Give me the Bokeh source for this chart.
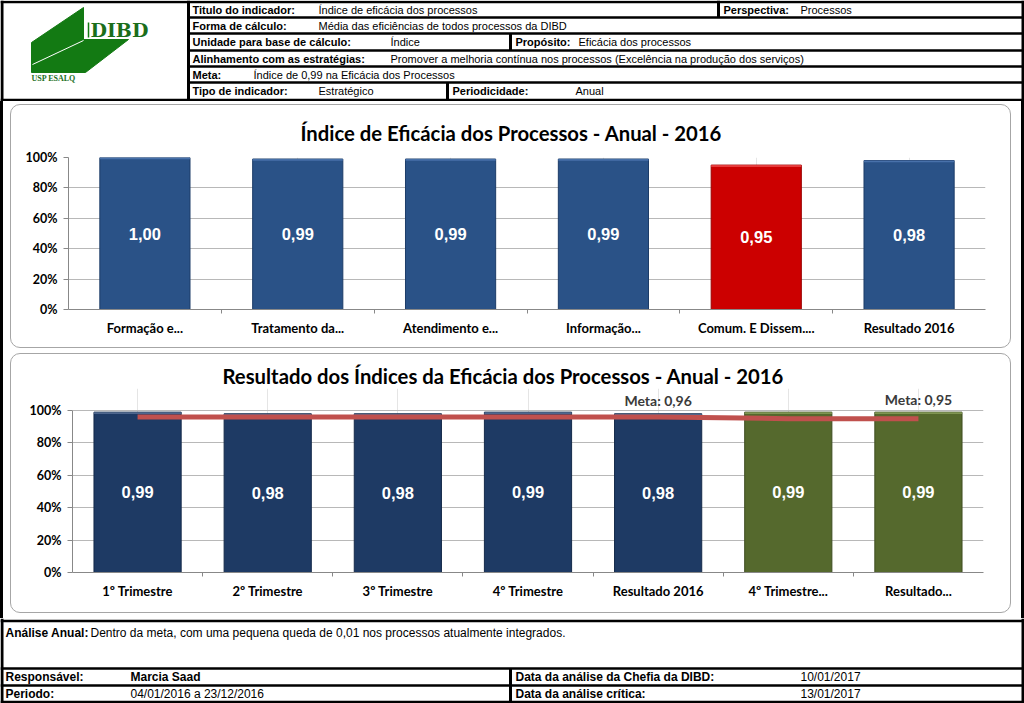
from bokeh.plotting import figure
from bokeh.models import (Range1d, FactorRange, ColumnDataSource, NumeralTickFormatter,
                          FixedTicker, Spacer, CategoricalAxis)
from bokeh.layouts import column, row
from bokeh.embed import file_html
from bokeh.resources import INLINE
from bokeh.core.properties import value

# ---------------- data ----------------
cats1 = ["Formação e...", "Tratamento da...", "Atendimento e...", "Informação...",
         "Comum. E Dissem....", "Resultado 2016"]
vals1 = [1.00, 0.99, 0.99, 0.99, 0.95, 0.98]

cats2 = ["1º Trimestre", "2º Trimestre", "3º Trimestre", "4º Trimestre",
         "Resultado 2016", "4º Trimestre...", "Resultado..."]
vals2 = [0.99, 0.98, 0.98, 0.99, 0.98, 0.99, 0.99]
meta2 = [0.96, 0.96, 0.96, 0.96, 0.96, 0.95, 0.95]
grupo2 = ["atual", "atual", "atual", "atual", "atual", "anterior", "anterior"]
meta_rotulo_idx = [4, 6]
meta_limite1 = 0.96

yticks = [0, 0.2, 0.4, 0.6, 0.8, 1.0]

title1 = "Índice de Eficácia dos Processos - Anual - 2016"
title2 = "Resultado dos Índices da Eficácia dos Processos - Anual - 2016"

hdr_labels = ["Titulo do indicador:", "Perspectiva:", "Forma de cálculo:",
              "Unidade para base de cálculo:", "Propósito:", "Alinhamento com as estratégias:",
              "Meta:", "Tipo de indicador:", "Periodicidade:"]
hdr_values = ["Índice de eficácia dos processos", "Processos",
              "Média das eficiências de todos processos da DIBD", "Índice",
              "Eficácia dos processos",
              "Promover a melhoria contínua nos processos (Excelência na produção dos serviços)",
              "Índice de 0,99 na Eficácia dos Processos", "Estratégico", "Anual"]
ftr_labels = ["Análise Anual:", "Responsável:", "Data da análise da Chefia da DIBD:",
              "Periodo:", "Data da análise crítica:"]
ftr_values = ["Dentro da meta, com uma pequena queda de 0,01 nos processos atualmente integrados.",
              "10/01/2017", "04/01/2016 a 23/12/2016", "13/01/2017"]
ftr_bold_values = ["Marcia Saad"]

# ---------------- layout / style ----------------
W = 1024
SANS = "Liberation Sans"
CH = "Lato"
BLUE1, BLUE1_TOP, BLUE1_EDGE = "#2A5287", "#5079B3", "#1C3C68"
RED1, RED1_TOP, RED1_EDGE = "#CC0000", "#EE4A4A", "#990000"
NAVY2, NAVY2_TOP, NAVY2_EDGE = "#1E3A64", "#5A7299", "#142A4A"
OLIVE2, OLIVE2_TOP, OLIVE2_EDGE = "#55692D", "#8AA05A", "#3E4D20"
META_C = "#C0504D"


def table_fig(h, top, bottom):
    p = figure(width=W, height=h, x_range=Range1d(0, 1024), y_range=Range1d(bottom, top),
               toolbar_location=None, output_backend="svg", min_border=0,
               x_axis_location=None, y_axis_location=None, frame_align=False)
    p.grid.visible = False
    p.outline_line_color = None
    return p


def seg(p, x0, x1, y0, y1, w):
    p.segment(x0=x0, x1=x1, y0=y0, y1=y1, line_color="black", line_width=w)


def texts(p, xs, ys, ts, size, bold, color="black", font=SANS, align="left"):
    p.text(x=xs, y=ys, text=ts, text_font=value(font), text_font_size=size,
           text_font_style="bold" if bold else "normal", text_color=color,
           text_align=align, text_baseline="middle")


# ---------------- header ----------------
hdr = table_fig(101, 0, 101)
hdr.patch(x=[31, 83, 83, 128, 85, 31], y=[42, 7, 39, 39, 72, 72], color="#137A13")
hdr.line(x=[32, 83], y=[64, 40], line_color="white", line_width=1)
hdr.line(x=[88, 88], y=[22, 37], line_color="#137A13", line_width=1.5)
texts(hdr, [90], [29], ["DIBD"], "19px", True, color="#1B6E1B", font="DejaVu Serif")
texts(hdr, [31], [78], ["USP ESALQ"], "8px", True, color="#1B6E1B", font="Liberation Serif")
seg(hdr, [0, 0] + [188] * 5, [1024, 1024] + [1024] * 5,
    [1.5, 99.5, 17, 33, 50, 66, 82], [1.5, 99.5, 17, 33, 50, 66, 82], 2.5)
seg(hdr, [1.5, 1022.5, 188, 718, 510, 447], [1.5, 1022.5, 188, 718, 510, 447],
    [0, 0, 0, 0, 33, 82], [101, 101, 101, 17, 50, 100], 3)
texts(hdr, [192, 723, 192, 192, 515, 192, 192, 192, 452],
      [9.5, 9.5, 25, 41.5, 41.5, 58, 74, 90.5, 90.5], hdr_labels, "11px", True)
texts(hdr, [318, 800, 318, 390, 578, 390, 253, 318, 575],
      [9.5, 9.5, 25, 41.5, 41.5, 58, 74, 90.5, 90.5], hdr_values, "11px", False)


# ---------------- charts ----------------
PANEL_CSS = {"border": "1px solid #A6A6A6", "border-radius": "10px", "overflow": "hidden"}
FIG_W = 1001
AX_C = "#888888"


def chart_fig(cats, h, ymax, ml, mr, mt, mb, title, tstand, toff):
    p = figure(x_range=FactorRange(factors=cats), y_range=Range1d(0, ymax), width=FIG_W,
               height=h, min_border_left=ml, min_border_right=mr, min_border_top=mt,
               min_border_bottom=mb, toolbar_location=None, output_backend="svg",
               frame_align=False, styles=PANEL_CSS, x_axis_location=None)
    p.border_fill_alpha = 0
    p.outline_line_color = None
    p.title.text = title
    p.title.align = "left"
    p.title.offset = toff
    p.title.standoff = tstand
    p.title.text_font = CH
    p.title.text_font_style = "bold"
    p.title.text_font_size = "20.3px"
    p.title.text_color = "black"
    p.ygrid.ticker = FixedTicker(ticks=yticks)
    p.ygrid.grid_line_color = "#B8B8B8"
    p.yaxis.ticker = FixedTicker(ticks=yticks)
    p.yaxis.bounds = (0, 1)
    p.yaxis.formatter = NumeralTickFormatter(format="0%")
    p.yaxis.minor_tick_line_color = None
    p.yaxis.major_tick_in = 0
    p.yaxis.major_tick_out = 5
    p.yaxis.major_tick_line_color = AX_C
    p.yaxis.axis_line_color = AX_C
    p.yaxis.major_label_text_font = CH
    p.yaxis.major_label_text_font_style = "bold"
    p.yaxis.major_label_text_font_size = "12.5px"
    p.yaxis.major_label_text_color = "black"
    p.yaxis.major_label_standoff = 6
    # boundary ticks between categories: helper factor range whose centres fall on the
    # category boundaries of the main range
    p.extra_x_ranges = {"bnd": FactorRange(factors=[f"b{i}" for i in range(len(cats) + 1)],
                                           range_padding=-0.5,
                                           range_padding_units="absolute")}
    bnd = CategoricalAxis(x_range_name="bnd", axis_line_color=AX_C,
                          major_tick_line_color=AX_C, major_tick_in=0, major_tick_out=4,
                          major_label_text_font_size="0px", major_label_text_color=None,
                          major_label_standoff=0)
    p.add_layout(bnd, "below")
    cax = CategoricalAxis(axis_line_color=None, major_tick_line_color=None, major_tick_in=0,
                          major_tick_out=0, major_label_text_font=CH,
                          major_label_text_font_style="bold", major_label_text_font_size="13px",
                          major_label_text_color="black", major_label_standoff=6)
    p.add_layout(cax, "below")
    return p


def fmt(v):
    return f"{v:.2f}".replace(".", ",")


def bars(p, cats, vals, colors, tops, edges, width, strip):
    src = ColumnDataSource(dict(
        cat=cats, val=vals, mid=[v / 2 for v in vals], lbl=[fmt(v) for v in vals],
        top0=[v - strip for v in vals], color=colors, tcol=tops, edge=edges))
    p.vbar(x="cat", top="val", width=width, source=src, fill_color="color", line_color="edge")
    p.vbar(x="cat", top="val", bottom="top0", width=width, source=src, fill_color="tcol",
           line_color=None, fill_alpha=0.8)
    p.text(x="cat", y="mid", text="lbl", source=src, text_color="white",
           text_font=value(SANS), text_font_style="bold", text_font_size="16.5px",
           text_align="center", text_baseline="middle")


# chart 1
c1 = chart_fig(cats1, 244, 1.0, 57, 27, 52, 40, title1, 26, 232)
low1 = [v < meta_limite1 for v in vals1]
bars(c1, cats1, vals1, [RED1 if l else BLUE1 for l in low1],
     [RED1_TOP if l else BLUE1_TOP for l in low1], [RED1_EDGE if l else BLUE1_EDGE for l in low1],
     0.59, 0.012)

# chart 2
c2 = chart_fig(cats2, 260, 1.136, 61, 29, 34, 42, title2, 2, 150)
cur2 = [g == "atual" for g in grupo2]
bars(c2, cats2, vals2, [NAVY2 if c else OLIVE2 for c in cur2],
     [NAVY2_TOP if c else OLIVE2_TOP for c in cur2],
     [NAVY2_EDGE if c else OLIVE2_EDGE for c in cur2], 0.67, 0.011)
c2.line(x=cats2, y=meta2, line_color=META_C, line_width=5)
msrc = ColumnDataSource(dict(x=[cats2[i] for i in meta_rotulo_idx],
                             y=[vals2[i] for i in meta_rotulo_idx],
                             t=["Meta: " + fmt(meta2[i]) for i in meta_rotulo_idx]))
c2.text(x="x", y="y", text="t", source=msrc, y_offset=-13, text_align="center",
        text_baseline="middle", text_font=value(CH), text_font_style="bold",
        text_font_size="14px", text_color="#3A3A3A")

# ---------------- footer ----------------
ftr = table_fig(85, 618, 703)
seg(ftr, [0, 0, 0, 0], [1024, 1024, 1024, 1024], [620.5, 668, 685, 701.5],
    [620.5, 668, 685, 701.5], 2.5)
seg(ftr, [1.5, 1022.5, 510], [1.5, 1022.5, 510], [618, 618, 668], [703, 703, 703], 3)
texts(ftr, [5, 5, 515, 5, 515], [632, 676.5, 676.5, 693.5, 693.5], ftr_labels, "12px", True)
texts(ftr, [90, 800, 130, 800], [632, 676.5, 693.5, 693.5], ftr_values, "12px", False)
texts(ftr, [130], [676.5], ftr_bold_values, "12px", True)

# ---------------- page assembly ----------------
MID_H = 517
PW = FIG_W + 2
BLACK = {"background-color": "black"}
mid = column(Spacer(width=PW, height=3), c1, Spacer(width=PW, height=5), c2,
             Spacer(width=PW, height=1), spacing=0)
middle = row(Spacer(width=3, height=MID_H, styles=BLACK), Spacer(width=7, height=MID_H), mid,
             Spacer(width=8, height=MID_H), Spacer(width=3, height=MID_H, styles=BLACK),
             spacing=0)
layout = column(hdr, middle, ftr, spacing=0)
open("out.html", "w").write(file_html(layout, INLINE))
